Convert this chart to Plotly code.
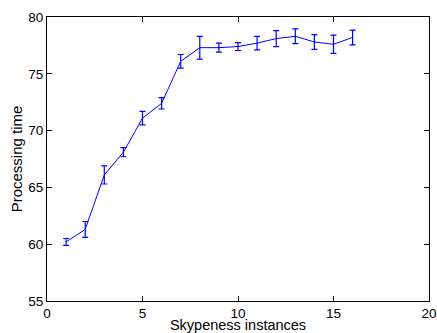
import plotly.graph_objects as go

instances = [1, 2, 3, 4, 5, 6, 7, 8, 9, 10, 11, 12, 13, 14, 15, 16]
proc_time = [60.2, 61.3, 66.1, 68.1, 71.1, 72.4, 76.1, 77.3, 77.3, 77.4, 77.7, 78.1, 78.3, 77.8, 77.6, 78.2]
errors = [0.3, 0.7, 0.8, 0.4, 0.6, 0.5, 0.6, 1.0, 0.4, 0.35, 0.6, 0.7, 0.65, 0.65, 0.8, 0.65]
x_ticks = [0, 5, 10, 15, 20]
y_ticks = [55, 60, 65, 70, 75, 80]

FONT = "Liberation Sans, Arial, Helvetica, sans-serif"

fig = go.Figure()
fig.add_trace(go.Scatter(
    x=instances, y=proc_time, mode="lines",
    line=dict(color="#0000ff", width=1),
    error_y=dict(type="data", array=errors, visible=True, color="#0000ff", thickness=1.2, width=3),
    showlegend=False,
))

axis_common = dict(
    showline=True, linecolor="black", linewidth=1, mirror="ticks",
    ticks="inside", ticklen=5, tickcolor="black", tickwidth=1,
    showgrid=False, zeroline=False, automargin=False,
    tickfont=dict(family=FONT, size=13.5, color="black"),
)

fig.update_layout(
    width=437, height=333,
    margin=dict(l=47, r=8, t=17, b=32, autoexpand=False),
    plot_bgcolor="white", paper_bgcolor="white",
    xaxis=dict(range=[0, 20], tickvals=x_ticks,
               title=dict(text="Skypeness instances", standoff=7,
                          font=dict(family=FONT, size=14.5, color="black")),
               **axis_common),
    yaxis=dict(range=[55, 80], tickvals=y_ticks,
               title=dict(text="Processing time", standoff=2,
                          font=dict(family=FONT, size=15, color="black")),
               **axis_common),
)

fig.write_html("out.html", config={"displayModeBar": False},
               post_script="document.body.style.margin='0';")
